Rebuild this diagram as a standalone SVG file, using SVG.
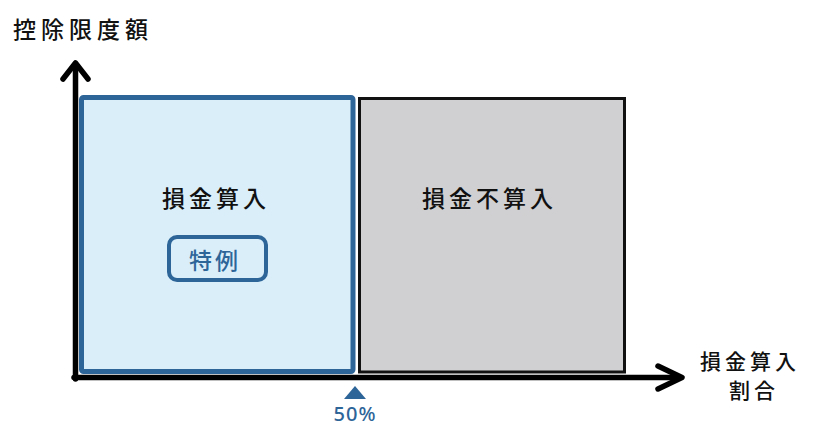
<svg xmlns="http://www.w3.org/2000/svg" width="813" height="428" viewBox="0 0 813 428">
<style>
text{font-family:"Noto Sans CJK JP","Noto Sans",sans-serif;font-size:23px;font-weight:500}
.k{fill:#111}
.b{fill:#2e6599}
.ax{stroke:#000;stroke-width:5.5;fill:none;stroke-linecap:round;stroke-linejoin:round}
</style>
<rect width="813" height="428" fill="#fff"/>
<text class="k" x="13" y="38" style="letter-spacing:5px">控除限度額</text>
<g id="deductible">
<rect x="81.5" y="97.5" width="271.5" height="274" rx="2" fill="#d9eef9" stroke="#2e6599" stroke-width="5"/>
<text class="k" x="162" y="207" style="letter-spacing:4px">損金算入</text>
</g>
<g id="special">
<rect x="169" y="237" width="97" height="43" rx="8" fill="#d9eef9" stroke="#2e6599" stroke-width="4"/>
<text class="b" x="189" y="269" style="letter-spacing:3px">特例</text>
</g>
<g id="nondeductible">
<rect x="359.5" y="98.5" width="265" height="273.5" fill="#d0d0d2" stroke="#111" stroke-width="3"/>
<text class="k" x="422" y="207" style="letter-spacing:4px">損金不算入</text>
</g>
<g id="connectors">
<line class="ax" x1="75.5" y1="379" x2="75.5" y2="64"/>
<polyline class="ax" points="63,79 75.5,63 88,79"/>
<line class="ax" x1="74" y1="377.5" x2="680" y2="377.5"/>
<polyline class="ax" points="658,366 682,377.5 658,389"/>
</g>
<g id="marker50">
<polygon points="355,386 344,399 366,399" fill="#2e6599"/>
<text class="b" x="355" y="421" text-anchor="middle" style="font-family:'Noto Sans',sans-serif;font-size:20px;font-weight:500;letter-spacing:1px">50%</text>
</g>
<g id="xlabel">
<text class="k" x="700" y="369" style="font-size:21px;letter-spacing:4px">損金算入</text>
<text class="k" x="729" y="398" style="font-size:21px;letter-spacing:4px">割合</text>
</g>
</svg>
